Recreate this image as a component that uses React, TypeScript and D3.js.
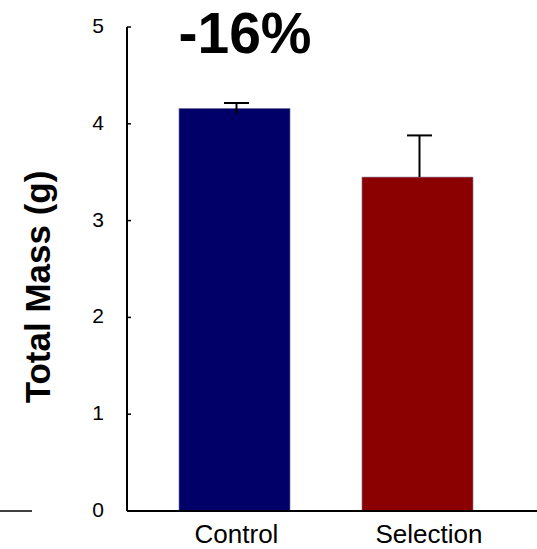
import React from "react";
import * as d3 from "d3";

const categories = ["Control", "Selection"];
const means = [4.16, 3.45];
const upperErrors = [0.055, 0.43];
const lowerErrors = [0.06, 0];
const barColors = ["#000068", "#8b0000"];
const yTicks = [0, 1, 2, 3, 4, 5];
const annotation = "-16%";

export default function App() {
  const W = 537, H = 549;
  const axisX = 127;
  const y = d3.scaleLinear().domain([0, 5]).range([511, 27]);
  const x = d3.scaleBand().domain(categories).range([127, 525]).paddingInner(0.393).paddingOuter(0.284);
  const lx = d3.scalePoint().domain(categories).range([236.5, 429]);
  const font = "Arial, 'Liberation Sans', sans-serif";
  return (
    <svg width={W} height={H} style={{ position: "absolute", left: 0, top: 0 }}>
      <rect width={W} height={H} fill="#fff" />
      {categories.map((c, i) => {
        const bx = x(c)!;
        const bw = x.bandwidth();
        const cx = bx + bw / 2 + 2;
        return (
          <g key={c}>
            <rect x={bx} y={y(means[i])} width={bw} height={y(0) - y(means[i])} fill={barColors[i]} stroke="#8888aa" strokeWidth={0.6} />
            <line x1={cx} x2={cx} y1={y(means[i] - lowerErrors[i])} y2={y(means[i] + upperErrors[i])} stroke="#000" strokeWidth={2} />
            <line x1={cx - 12.5} x2={cx + 12.5} y1={y(means[i] + upperErrors[i])} y2={y(means[i] + upperErrors[i])} stroke="#000" strokeWidth={2} />
            <text x={lx(c)!} y={543} textAnchor="middle" fontFamily={font} fontSize={26} fill="#000">{c}</text>
          </g>
        );
      })}
      <line x1={axisX} x2={axisX} y1={y(5)} y2={y(0)} stroke="#000" strokeWidth={2} />
      <line x1={axisX} x2={537} y1={y(0)} y2={y(0)} stroke="#000" strokeWidth={2} />
      <line x1={0} x2={32} y1={y(0)} y2={y(0)} stroke="#000" strokeWidth={1.5} />
      {yTicks.map((t) => (
        <g key={t}>
          <line x1={axisX} x2={axisX + 4} y1={y(t)} y2={y(t)} stroke="#000" strokeWidth={1.5} />
          <text x={104} y={y(t) + 6} textAnchor="end" fontFamily={font} fontSize={21} fill="#000">{t}</text>
        </g>
      ))}
      <text x={245} y={53} textAnchor="middle" fontFamily={font} fontWeight="bold" fontSize={57} fill="#000">{annotation}</text>
      <text transform={`translate(50,287) rotate(-90)`} textAnchor="middle" fontFamily={font} fontWeight="bold" fontSize={35} fill="#000">Total Mass (g)</text>
    </svg>
  );
}
